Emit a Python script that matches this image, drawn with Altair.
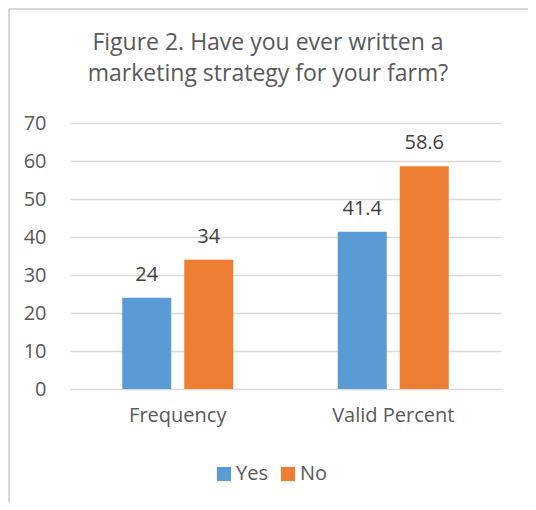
import altair as alt
import pandas as pd

categories = ["Frequency", "Valid Percent"]
series = ["Yes", "No"]
yes_values = [24, 41.4]
no_values = [34, 58.6]
y_ticks = [0, 10, 20, 30, 40, 50, 60, 70]
colors = ["#5B9BD5", "#ED7D31"]
title_lines = ["Figure 2. Have you ever written a", "marketing strategy for your farm?"]

rows = []
for i, c in enumerate(categories):
    rows.append({"cat": c, "series": "Yes", "value": yes_values[i], "label": f"{yes_values[i]:g}"})
    rows.append({"cat": c, "series": "No", "value": no_values[i], "label": f"{no_values[i]:g}"})
df = pd.DataFrame(rows)

FONT = "Open Sans"
TXT = "#595959"
GRID = "#D9D9D9"

x_enc = alt.X("cat:N", sort=categories, title=None,
              scale=alt.Scale(paddingInner=0, paddingOuter=0),
              axis=alt.Axis(labelAngle=0, labelFont=FONT, labelFontSize=20, labelColor=TXT,
                            ticks=False, domain=True, domainColor=GRID, labelPadding=16))
xo_enc = alt.XOffset("series:N", sort=series,
                     scale=alt.Scale(paddingInner=0.21, paddingOuter=0.843))
y_enc = alt.Y("value:Q", title=None,
              scale=alt.Scale(domain=[0, 70], nice=False),
              axis=alt.Axis(values=y_ticks, labelFont=FONT, labelFontSize=20, labelColor=TXT,
                            ticks=False, domain=False, gridColor=GRID, gridWidth=1.3,
                            labelOverlap=False, labelPadding=24))

bars = alt.Chart(df).mark_bar().encode(
    x=x_enc,
    xOffset=xo_enc,
    y=y_enc,
    color=alt.Color("series:N", sort=series,
                    scale=alt.Scale(domain=series, range=colors),
                    legend=alt.Legend(title=None, orient="none", direction="horizontal",
                                      legendX=144, legendY=341,
                                      symbolType="square", symbolSize=200,
                                      symbolStrokeWidth=0,
                                      labelFont=FONT, labelFontSize=20, labelColor=TXT,
                                      labelOffset=2, columnPadding=10)),
)

labels = alt.Chart(df).mark_text(font=FONT, fontSize=20, color="#404040",
                                 baseline="alphabetic", dy=-17).encode(
    x=x_enc,
    xOffset=xo_enc,
    y=y_enc,
    text="label:N",
)

frame = alt.Data(values=[{"k": 1}])
title = alt.Chart(frame).mark_text(text=title_lines, font=FONT, fontSize=23, color=TXT,
                                   baseline="alphabetic", align="center",
                                   lineHeight=31).encode(
    x=alt.value(198), y=alt.value(-73))
top_border = alt.Chart(frame).mark_rule(color=GRID, strokeWidth=2).encode(
    x=alt.value(-61), x2=alt.value(460), y=alt.value(-114))
left_border = alt.Chart(frame).mark_rule(color=GRID, strokeWidth=2).encode(
    x=alt.value(-61), y=alt.value(-114), y2=alt.value(380))

chart = alt.layer(bars, labels, title, top_border, left_border).properties(
    width=431,
    height=266,
    autosize=alt.AutoSizeParams(type="none"),
    padding={"left": 62, "top": 115, "right": 27, "bottom": 113},
).configure_view(stroke=None)

chart.save("out.html", embed_options={"renderer": "svg", "actions": False})
